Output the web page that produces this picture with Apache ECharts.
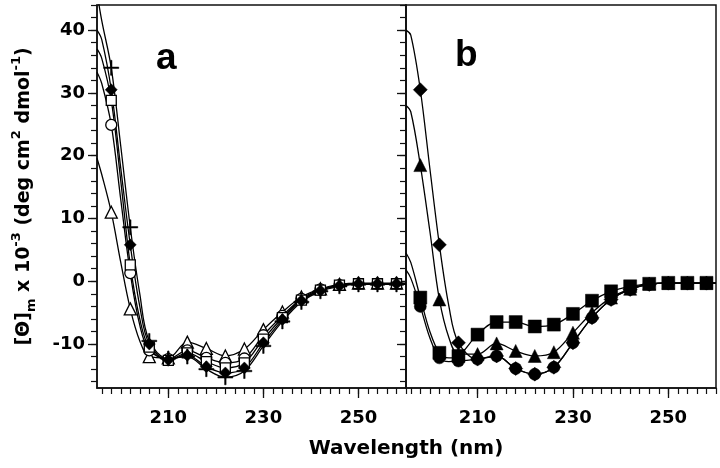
<!DOCTYPE html>
<html>
<head>
<meta charset="utf-8">
<script src="https://cdn.jsdelivr.net/npm/echarts/dist/echarts.min.js"></script>
<style>
html,body{margin:0;padding:0;background:#fff;}
#chart{width:720px;height:468px;}
</style>
</head>
<body>
<div id="chart"></div>
<script>
// wavelengths (nm)
var wl = [195,196,198,200,202,204,206,210,214,218,222,226,230,234,238,242,246,250,254,258,260];
// wavelengths carrying a marker
var markerWl = [198,202,206,210,214,218,222,226,230,234,238,242,246,250,254,258];

// panel a
var plusA     = [46,41.5,34,21.5,8.6,-2,-9.5,-12.3,-12.0,-14.0,-15.3,-14.3,-10.3,-6.4,-3.3,-1.6,-0.8,-0.5,-0.5,-0.5,-0.5];
var diamondA  = [40,38.5,30.5,18,5.8,-4,-10,-12.5,-11.8,-13.6,-14.6,-13.8,-9.8,-6.1,-3.1,-1.5,-0.7,-0.4,-0.4,-0.4,-0.4];
var squareA   = [37,35.5,28.8,16,2.6,-6,-10.5,-12.6,-11.4,-12.8,-13.8,-13.0,-9.2,-5.8,-3.0,-1.4,-0.6,-0.4,-0.4,-0.4,-0.4];
var circleA   = [33.3,31.5,24.9,13,1.3,-7,-11,-12.4,-11.0,-12.2,-13.0,-12.3,-8.6,-5.5,-2.8,-1.3,-0.6,-0.4,-0.4,-0.4,-0.4];
var triangleA = [19.6,17,11,3,-4.4,-9.5,-12,-12.2,-9.7,-10.7,-11.9,-10.8,-7.7,-4.9,-2.5,-1.2,-0.5,-0.3,-0.3,-0.3,-0.3];

// panel b
var diamondB  = [40,39.2,30.5,18,5.8,-4,-9.8,-12.4,-11.9,-13.9,-14.8,-13.7,-9.8,-5.8,-2.9,-1.3,-0.5,-0.3,-0.3,-0.3,-0.3];
var triangleB = [28,27,18.5,8,-2.9,-9,-11.6,-11.6,-9.9,-11.1,-11.9,-11.3,-8.2,-5.0,-2.6,-1.2,-0.4,-0.3,-0.3,-0.3,-0.3];
var squareB   = [4.5,3,-2.6,-8,-11.4,-12.2,-11.9,-8.5,-6.5,-6.5,-7.2,-6.9,-5.2,-3.1,-1.6,-0.8,-0.4,-0.25,-0.25,-0.25,-0.25];
var circleB   = [1.8,0.5,-4,-9,-12.2,-12.8,-12.7,-12.4,-11.9,-13.9,-14.8,-13.7,-9.8,-5.8,-2.9,-1.3,-0.5,-0.3,-0.3,-0.3,-0.3];

// axis ticks / labels
var xLabels = [210,230,250];
var xMinorTicks = [196,198,200,202,204,206,208,210,212,214,216,218,220,222,224,226,228,230,232,234,236,238,240,242,244,246,248,250,252,254,256,258,260];
var yLabels = [-10,0,10,20,30,40];
var yMinorTicks = [-16,-14,-12,-10,-8,-6,-4,-2,0,2,4,6,8,10,12,14,16,18,20,22,24,26,28,30,32,34,36,38,40,42,44];

var X_MIN = 195, X_MAX = 260, Y_MIN = -17, Y_MAX = 44;
var FONT = "'DejaVu Sans', 'Liberation Sans', Arial, sans-serif";
var FONT2 = "'Liberation Sans', Arial, sans-serif";
var PLUS = 'path://M9,0h2v9h9v2h-9v9h-2v-9h-9v-2h9z';

function pairs(ys){ return wl.map(function(x,i){ return [x, ys[i]]; }); }
function mk(name){
  return function(v){ return markerWl.indexOf(v[0]) >= 0 ? name : 'none'; };
}
function ser(name, ys, sym, size, filled, xi, yi){
  return {
    name: name, type: 'line', xAxisIndex: xi, yAxisIndex: yi,
    data: pairs(ys), smooth: 0.35, clip: true,
    symbol: mk(sym), symbolSize: size, showSymbol: true,
    lineStyle: {color: '#000', width: 1.3},
    itemStyle: {color: filled ? '#000' : '#fff', borderColor: '#000', borderWidth: filled ? 0.5 : 1.3},
    emphasis: {disabled: true}, animation: false
  };
}

function xMain(gi){
  return {type:'value', gridIndex: gi, position:'bottom', min: X_MIN, max: X_MAX,
    axisLine:{show:true, onZero:false, lineStyle:{color:'#111', width:1.5}},
    axisTick:{show:true, customValues: xLabels, length: 10, lineStyle:{color:'#111', width:1.3}},
    axisLabel:{show:true, customValues: xLabels, margin: 21, color:'#000', fontSize: 18, fontWeight:'bold', fontFamily: FONT},
    splitLine:{show:false}};
}
function xMinor(gi){
  return {type:'value', gridIndex: gi, position:'bottom', min: X_MIN, max: X_MAX,
    axisLine:{show:false, onZero:false},
    axisTick:{show:true, customValues: xMinorTicks, length: 6, lineStyle:{color:'#111', width:1.2}},
    axisLabel:{show:false}, splitLine:{show:false}};
}
function yMain(gi, labels){
  var ax = {type:'value', gridIndex: gi, position:'left', min: Y_MIN, max: Y_MAX,
    axisLine:{show:true, onZero:false, lineStyle:{color:'#111', width:1.5}},
    axisTick:{show:true, customValues: yLabels, length: 9, lineStyle:{color:'#111', width:1.3}},
    axisLabel:{show: labels, customValues: yLabels, margin: 12, color:'#000', fontSize: 18, fontWeight:'bold', fontFamily: FONT},
    splitLine:{show:false}};
  if (labels){
    ax.name = '{a|[\u0398]}{sub|m}{a| x 10}{sup|-3}{a| (deg cm}{sup|2}{a| dmol}{sup|-1}{a|)}';
    ax.nameLocation = 'middle';
    ax.nameGap = 59;
    ax.nameTextStyle = {
      color:'#000', fontFamily: FONT, fontSize: 19, fontWeight:'bold',
      rich: {
        a:{fontSize:19, fontWeight:'bold', fontFamily: FONT, color:'#000', lineHeight:28, verticalAlign:'middle'},
        sub:{fontSize:13, fontWeight:'bold', fontFamily: FONT, color:'#000', lineHeight:28, verticalAlign:'bottom'},
        sup:{fontSize:13, fontWeight:'bold', fontFamily: FONT, color:'#000', lineHeight:28, verticalAlign:'top'}
      }
    };
  }
  return ax;
}
function yMinor(gi){
  return {type:'value', gridIndex: gi, position:'left', min: Y_MIN, max: Y_MAX,
    axisLine:{show:false, onZero:false},
    axisTick:{show:true, customValues: yMinorTicks, length: 6, lineStyle:{color:'#111', width:1.2}},
    axisLabel:{show:false}, splitLine:{show:false}};
}

var chart = echarts.init(document.getElementById('chart'), null, {renderer:'canvas'});
chart.setOption({
  animation: false,
  backgroundColor: '#fff',
  grid: [
    {left: 97, top: 5, width: 309, height: 383, show: true, borderColor: '#111', borderWidth: 1.5, backgroundColor: 'transparent'},
    {left: 406, top: 5, width: 310, height: 383, show: true, borderColor: '#111', borderWidth: 1.5, backgroundColor: 'transparent'}
  ],
  xAxis: [xMain(0), xMinor(0), xMain(1), xMinor(1)],
  yAxis: [yMain(0, true), yMinor(0), yMain(1, false), yMinor(1)],
  graphic: [
    {type:'text', left: 156, top: 40, style:{text:'a', font:'bold 37px ' + FONT2, fill:'#000'}},
    {type:'text', left: 455, top: 37, style:{text:'b', font:'bold 37px ' + FONT2, fill:'#000'}},
    {type:'text', x: 406, y: 449, style:{text:'Wavelength (nm)', font:'bold 20px ' + FONT, fill:'#000', textAlign:'center', textVerticalAlign:'middle'}}
  ],
  series: [
    ser('triangleA', triangleA, 'triangle', 12, false, 0, 0),
    ser('circleA', circleA, 'circle', 11, false, 0, 0),
    ser('squareA', squareA, 'rect', 10, false, 0, 0),
    ser('diamondA', diamondA, 'diamond', 12, true, 0, 0),
    ser('plusA', plusA, PLUS, 15, true, 0, 0),
    ser('circleB', circleB, 'circle', 12, true, 2, 2),
    ser('squareB', squareB, 'rect', 13, true, 2, 2),
    ser('triangleB', triangleB, 'triangle', 13, true, 2, 2),
    ser('diamondB', diamondB, 'diamond', 14, true, 2, 2)
  ]
});
</script>
</body>
</html>
